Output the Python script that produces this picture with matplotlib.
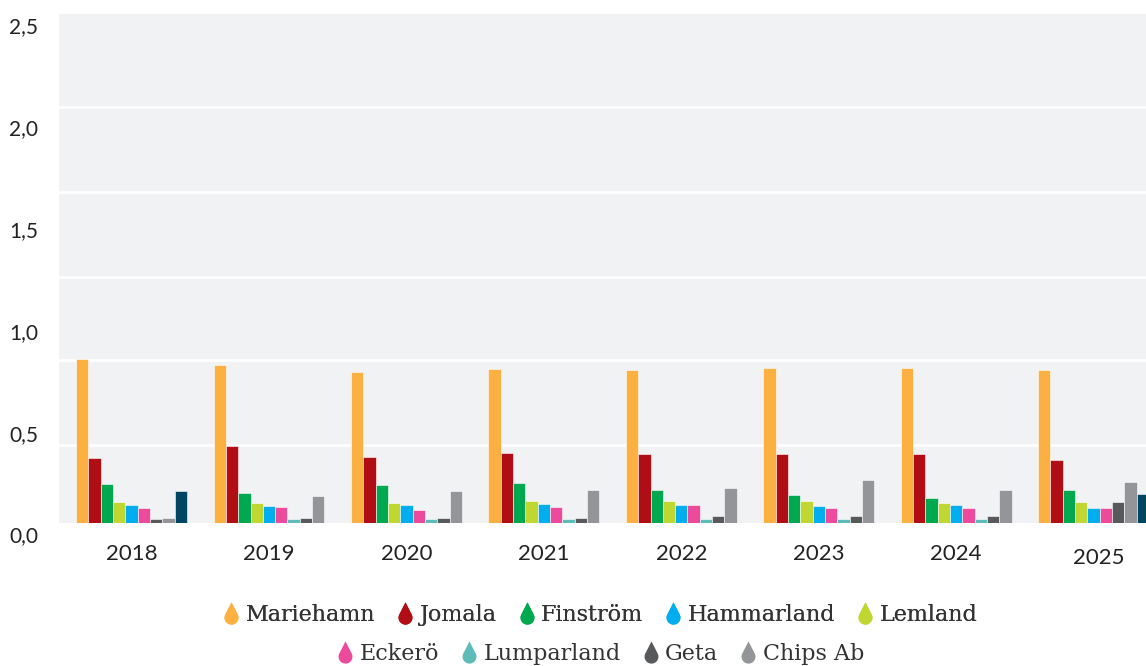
import numpy as np
import matplotlib
matplotlib.use("Agg")
import matplotlib.pyplot as plt
from matplotlib.path import Path
from matplotlib.lines import Line2D
from matplotlib.transforms import ScaledTranslation

# ---------------- data ----------------
years = ["2018", "2019", "2020", "2021", "2022", "2023", "2024", "2025"]

mariehamn = [0.806, 0.776, 0.742, 0.757, 0.752, 0.762, 0.762, 0.750]
jomala = [0.319, 0.378, 0.324, 0.344, 0.339, 0.339, 0.339, 0.308]
finstrom = [0.192, 0.147, 0.187, 0.197, 0.162, 0.138, 0.123, 0.161]
lemland = [0.103, 0.098, 0.098, 0.108, 0.108, 0.108, 0.098, 0.102]
hammarland = [0.088, 0.084, 0.088, 0.093, 0.088, 0.084, 0.088, 0.072]
eckero = [0.074, 0.079, 0.064, 0.079, 0.088, 0.074, 0.074, 0.072]
lumparland = [None, 0.020, 0.020, 0.020, 0.020, 0.020, 0.020, None]
geta = [0.020, 0.025, 0.025, 0.025, 0.034, 0.034, 0.034, 0.102]
chips_ab = [0.025, 0.133, 0.157, 0.162, 0.172, 0.211, 0.162, 0.200]
extra = [0.157, None, None, None, None, None, None, 0.141]

series_names = ["Mariehamn", "Jomala", "Finström", "Lemland", "Hammarland",
                "Eckerö", "Lumparland", "Geta", "Chips Ab", None]
series_values = [mariehamn, jomala, finstrom, lemland, hammarland,
                 eckero, lumparland, geta, chips_ab, extra]
series_colors = ["#FDB042", "#B00D15", "#00A94F", "#BFD730", "#00AEEF",
                 "#EC4B9C", "#5DBCB8", "#58595B", "#939598", "#004563"]

legend_row1 = ["Mariehamn", "Jomala", "Finström", "Hammarland", "Lemland"]
legend_row2 = ["Eckerö", "Lumparland", "Geta", "Chips Ab"]

y_ticks = [0.0, 0.5, 1.0, 1.5, 2.0, 2.5]
y_tick_labels = ["0,0", "0,5", "1,0", "1,5", "2,0", "2,5"]
grid_levels = [0.383, 0.801, 1.210, 1.628, 2.041]

# ---------------- figure ----------------
W, H = 1146, 666
fig = plt.figure(figsize=(W / 100, H / 100), dpi=100)
ax = fig.add_axes([59 / W, (H - 523) / H, (1146 - 59) / W, (523 - 14) / H])
ax.set_facecolor("#F1F2F4")
for s in ax.spines.values():
    s.set_visible(False)

for g in grid_levels:
    ax.axhline(g, color="white", lw=1.9, zorder=1)

bar_w = 0.0897
slots = 9
for i, yr in enumerate(years):
    present = [k for k in range(len(series_values)) if series_values[k][i] is not None]
    for slot, k in enumerate(present):
        x = i + (slot - (slots - 1) / 2) * bar_w
        ax.bar(x, series_values[k][i], width=bar_w, color=series_colors[k],
               edgecolor="white", linewidth=0.4, zorder=2)

ax.set_xlim(-0.528, 7.381)
ax.set_ylim(0, 2.5)

ax.set_xticks(range(len(years)))
ax.set_xticklabels(years, fontfamily="Lato", fontsize=16, color="#222222")
ax.set_yticks(y_ticks)
ax.set_yticklabels(y_tick_labels, fontfamily="Lato", fontsize=15, color="#222222")
ax.tick_params(axis="both", length=0)
ax.tick_params(axis="x", pad=15)
ax.tick_params(axis="y", pad=15)

for lab in ax.get_yticklabels():
    lab.set_transform(lab.get_transform() + ScaledTranslation(0, -0.115, fig.dpi_scale_trans))
xl = ax.get_xticklabels()
xl[-1].set_transform(xl[-1].get_transform() + ScaledTranslation(0.05, -0.04, fig.dpi_scale_trans))

# droplet marker
r = 1.0
d = 2.2
th = np.degrees(np.arccos(r / d))
a0 = 90 - th
angs = np.radians(np.linspace(a0, a0 - (360 - 2 * th), 60))
pts = [(0, d)] + [(r * np.cos(a), r * np.sin(a)) for a in angs] + [(0, d)]
pts = np.array(pts)
pts[:, 1] -= (d - r) / 2
drop = Path(pts, closed=True)

name_to_color = {n: c for n, c in zip(series_names, series_colors) if n}

def make_legend(names, ypos):
    handles = [Line2D([], [], marker=drop, linestyle="none", markersize=16,
                      markerfacecolor=name_to_color[n], markeredgewidth=0)
               for n in names]
    leg = fig.legend(handles, names, loc="center", bbox_to_anchor=(600 / W, ypos),
                     ncol=len(names), frameon=False, handlelength=0.8,
                     handletextpad=0.25, columnspacing=0.95,
                     prop={"family": "DejaVu Serif", "size": 16})
    for t in leg.get_texts():
        t.set_color("#333333")
    return leg

leg1 = make_legend(legend_row1, (H - 615) / H)
leg2 = make_legend(legend_row2, (H - 654) / H)
fig.add_artist(leg1)

fig.savefig("out.png", dpi=100)
